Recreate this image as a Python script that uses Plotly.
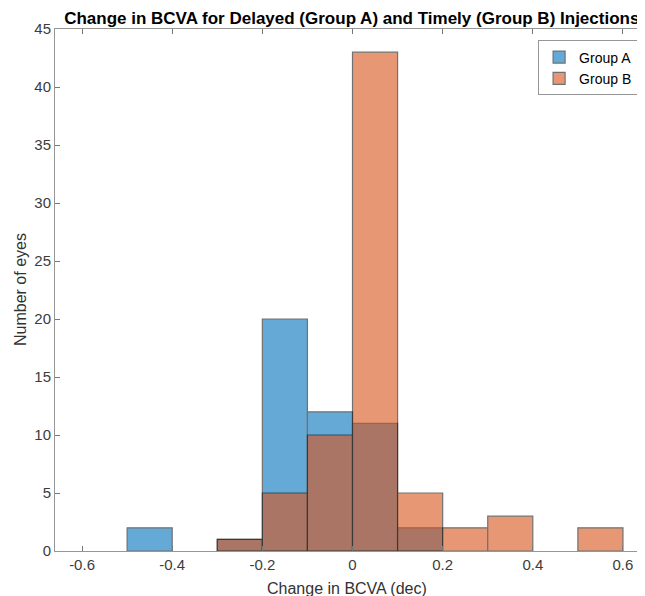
import plotly.graph_objects as go

bin_left = [-0.6, -0.5, -0.4, -0.3, -0.2, -0.1, 0.0, 0.1, 0.2, 0.3, 0.4, 0.5]
group_a = [0, 2, 0, 1, 20, 12, 11, 2, 0, 0, 0, 0]
group_b = [0, 0, 0, 1, 5, 10, 43, 5, 2, 3, 0, 2]
x_ticks = [-0.6, -0.4, -0.2, 0, 0.2, 0.4, 0.6]
y_ticks = [0, 5, 10, 15, 20, 25, 30, 35, 40, 45]

centers = [b + 0.05 for b in bin_left]
ya = [v if v else None for v in group_a]
yb = [v if v else None for v in group_b]

fig = go.Figure()
fig.add_trace(go.Bar(x=centers, y=ya, width=0.1, name="Group A",
                     marker=dict(color="rgb(0,114,189)", line=dict(color="rgb(20,20,20)", width=1.2)),
                     opacity=0.6))
fig.add_trace(go.Bar(x=centers, y=yb, width=0.1, name="Group B",
                     marker=dict(color="rgb(217,83,25)", line=dict(color="rgb(20,20,20)", width=1.2)),
                     opacity=0.6))

axis_common = dict(showgrid=False, zeroline=False, showline=True, linecolor="rgb(150,150,150)",
                   linewidth=1, mirror="ticks", ticks="inside", ticklen=5, automargin=False,
                   tickcolor="rgb(120,120,120)", tickfont=dict(size=15, color="rgb(60,60,60)"))

fig.update_layout(
    width=645, height=596,
    margin=dict(l=47, r=3, t=21, b=53),
    plot_bgcolor="white", paper_bgcolor="white",
    barmode="overlay",
    font=dict(family="Liberation Sans, Arial, sans-serif", color="rgb(50,50,50)"),
    title=dict(text="<b>Change in BCVA for Delayed (Group A) and Timely (Group B) Injections</b>",
               x=0.533, xanchor="center", y=0.983, yanchor="middle",
               font=dict(size=17, color="black")),
    xaxis=dict(range=[-0.66, 0.66], tickvals=x_ticks,
               ticktext=[("%g" % v) for v in x_ticks], **axis_common),
    yaxis=dict(range=[0, 45], tickvals=y_ticks, **axis_common),
    legend=dict(x=0.98, y=0.978, xanchor="right", yanchor="top",
                bordercolor="rgb(150,150,150)", borderwidth=1, bgcolor="white",
                font=dict(size=14, color="black")),
    annotations=[
        dict(text="Change in BCVA (dec)", xref="paper", yref="paper", x=0.49, y=0.0,
             yshift=-37, xanchor="center", yanchor="middle", showarrow=False,
             font=dict(size=16, color="rgb(50,50,50)")),
        dict(text="Number of eyes", xref="paper", yref="paper", x=0, y=0.5,
             xshift=-35, xanchor="center", yanchor="middle", textangle=-90, showarrow=False,
             font=dict(size=16, color="rgb(50,50,50)")),
    ],
)

fig.write_html("out.html")
